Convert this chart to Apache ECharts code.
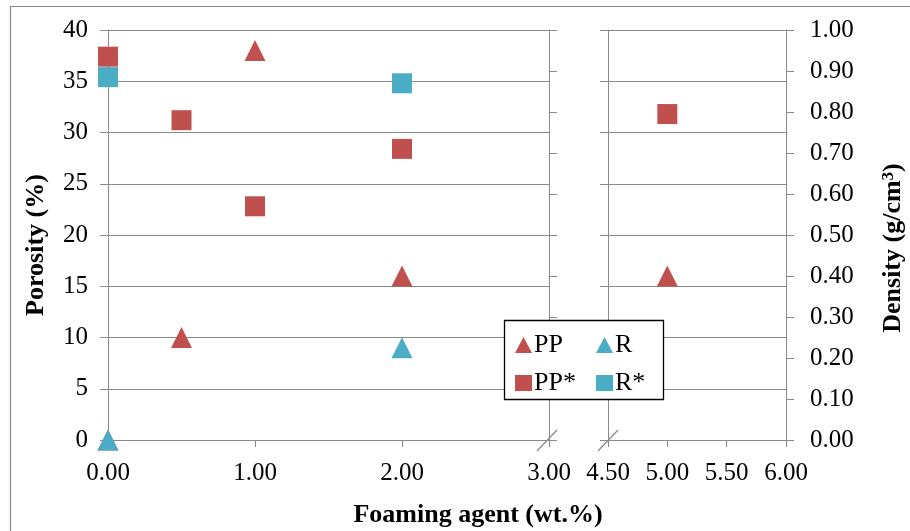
<!DOCTYPE html>
<html>
<head>
<meta charset="utf-8">
<script src="https://cdn.jsdelivr.net/npm/echarts@6/dist/echarts.min.js"></script>
<style>
  html, body { margin: 0; padding: 0; background: #fff; }
  #chart { width: 910px; height: 531px; }
</style>
</head>
<body>
<div id="chart"></div>
<script>
// Foaming agent content (wt.%) and measured porosity / density
const agentPP    = [0, 0.5, 1.0, 2.0, 5.0];
const porosityPP = [0, 10, 38, 16, 16];
const densityPP  = [0.935, 0.78, 0.57, 0.71, 0.795];

const agentR     = [0, 2.0];
const porosityR  = [0, 9];
const densityR   = [0.885, 0.87];

// Axis ranges: [min, max, interval]
const xLeftRange   = [0, 3, 1];
const xRightRange  = [4.5, 6, 0.5];
const porosityAxis = [0, 40, 5];
const densityAxis  = [0, 1, 0.1];

const legendLeft  = ['PP', 'PP*'];
const legendRight = ['R', 'R*'];

const RED  = '#C0504D';
const BLUE = '#4BACC6';
const AXIS = '#898989';
const FONT = '"Liberation Serif", "Times New Roman", serif';
const FS   = 25;

// keep only the points that fall inside one panel of the broken x axis
function pick(xs, ys, range) {
  const out = [];
  xs.forEach((x, i) => {
    if (x >= range[0] && x <= range[1] && ys[i] != null) out.push([x, ys[i]]);
  });
  return out;
}

const chart = echarts.init(document.getElementById('chart'), null, { renderer: 'canvas' });

const gridTop = 30, gridBottom = 91;
const axisLine = { show: true, lineStyle: { color: AXIS, width: 1 } };
const axisTickOut = { show: true, inside: false, length: 8, lineStyle: { color: AXIS, width: 1 } };
const labelStyle = { color: '#000', fontFamily: FONT, fontSize: FS };

function xAxis(gridIndex, r) {
  return {
    type: 'value', gridIndex, min: r[0], max: r[1], interval: r[2],
    axisLine: Object.assign({ onZero: false }, axisLine),
    axisTick: { show: true, length: 7, lineStyle: { color: AXIS } },
    axisLabel: Object.assign({ margin: 21, formatter: v => v.toFixed(2) }, labelStyle),
    splitLine: { show: false }
  };
}

function yAxis(gridIndex, position, r, labels, grid, fmt) {
  return {
    type: 'value', gridIndex, position, min: r[0], max: r[1], interval: r[2],
    axisLine: axisLine,
    axisTick: axisTickOut,
    axisLabel: Object.assign({ show: labels, margin: position === 'left' ? 20 : 24,
      formatter: fmt }, labelStyle),
    splitLine: { show: grid, lineStyle: { color: AXIS, width: 1 } }
  };
}

const triangle = { symbol: 'triangle', symbolSize: 21 };
const square   = { symbol: 'rect', symbolSize: 20 };

function scatter(name, color, shape, xIdx, yIdx, data) {
  return Object.assign({
    name, type: 'scatter', xAxisIndex: xIdx, yAxisIndex: yIdx,
    itemStyle: { color, opacity: 1 },
    emphasis: { disabled: true },
    data
  }, shape);
}

const legendCommon = {
  orient: 'vertical', top: 327, itemWidth: 17, itemHeight: 16, itemGap: 12,
  textStyle: { color: '#000', fontFamily: FONT, fontSize: 26, padding: [0, 0, 0, -3] },
  selectedMode: false, z: 10
};

const option = {
  animation: false,
  backgroundColor: '#fff',
  grid: [
    { left: 108, right: 910 - 549, top: gridTop, bottom: gridBottom },
    { left: 608, right: 910 - 786, top: gridTop, bottom: gridBottom }
  ],
  xAxis: [xAxis(0, xLeftRange), xAxis(1, xRightRange)],
  yAxis: [
    yAxis(0, 'left',  porosityAxis, true,  true,  v => String(v)),
    yAxis(0, 'right', densityAxis,  false, false, v => v.toFixed(2)),
    yAxis(1, 'left',  porosityAxis, false, true,  v => String(v)),
    yAxis(1, 'right', densityAxis,  true,  false, v => v.toFixed(2))
  ],
  legend: [
    Object.assign({ left: 510, data: legendLeft }, legendCommon),
    Object.assign({ left: 591, data: legendRight }, legendCommon)
  ],
  series: [
    scatter('PP',  RED,  triangle, 0, 0, pick(agentPP, porosityPP, xLeftRange)),
    scatter('PP',  RED,  triangle, 1, 2, pick(agentPP, porosityPP, xRightRange)),
    scatter('R',   BLUE, triangle, 0, 0, pick(agentR, porosityR, xLeftRange)),
    scatter('PP*', RED,  square,   0, 1, pick(agentPP, densityPP, xLeftRange)),
    scatter('PP*', RED,  square,   1, 3, pick(agentPP, densityPP, xRightRange)),
    scatter('R*',  BLUE, square,   0, 1, pick(agentR, densityR, xLeftRange))
  ]
};

chart.setOption(option);

// decorations: frame, legend box, axis titles and the axis-break slashes
const breakL = chart.convertToPixel({ xAxisIndex: 0 }, xLeftRange[1]);
const breakR = chart.convertToPixel({ xAxisIndex: 1 }, xRightRange[0]);
const baseY  = chart.convertToPixel({ yAxisIndex: 0 }, porosityAxis[0]);
const slash = (cx, cy) => ({
  type: 'line', z: 20,
  shape: { x1: cx - 10, y1: cy + 11, x2: cx + 10, y2: cy - 10 },
  style: { stroke: AXIS, lineWidth: 1.2 }
});
const titleFont = { fontFamily: FONT, fontSize: 26, fontWeight: 'bold', fill: '#000' };

chart.setOption({
  graphic: [
    { type: 'rect', z: 0, silent: true,
      shape: { x: 10.5, y: 6.5, width: 920, height: 560 },
      style: { fill: null, stroke: AXIS, lineWidth: 1.2 } },
    { type: 'rect', z: 5, silent: true,
      shape: { x: 504.5, y: 320.5, width: 159, height: 79 },
      style: { fill: '#fff', stroke: '#000', lineWidth: 1.3 } },
    slash(breakL - 2, baseY),
    slash(breakR, baseY),
    { type: 'text', z: 20, x: 36, y: 245, rotation: Math.PI / 2,
      style: Object.assign({ text: 'Porosity (%)', align: 'center', verticalAlign: 'middle' }, titleFont) },
    { type: 'text', z: 20, x: 893, y: 248, rotation: Math.PI / 2,
      style: Object.assign({
        text: 'Density (g/cm{sup|3})', align: 'center', verticalAlign: 'middle',
        rich: { sup: { fontFamily: FONT, fontSize: 17, fontWeight: 'bold', fill: '#000', verticalAlign: 'top', lineHeight: 26 } }
      }, titleFont) },
    { type: 'text', z: 20, x: 478, y: 515,
      style: Object.assign({ text: 'Foaming agent (wt.%)', align: 'center', verticalAlign: 'middle' }, titleFont) }
  ]
});
</script>
</body>
</html>
